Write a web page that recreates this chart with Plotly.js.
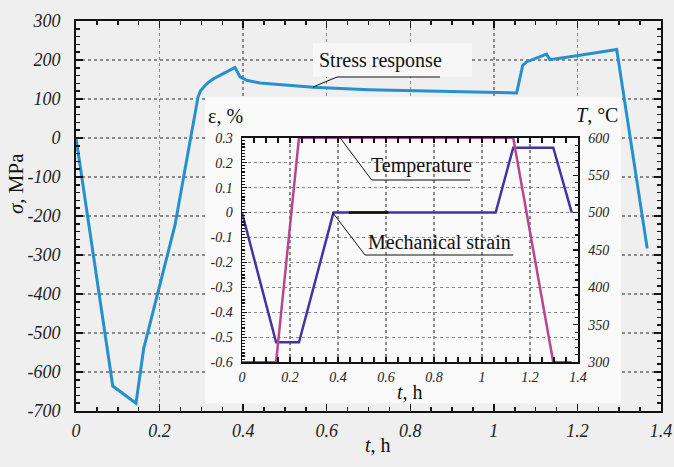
<!DOCTYPE html>
<html>
<head>
<meta charset="utf-8">
<script src="https://cdn.plot.ly/plotly-3.0.1.min.js"></script>
<style>html,body{margin:0;padding:0;background:#efefef;}#chart{width:674px;height:467px;}</style>
</head>
<body>
<div id="chart"></div>
<script>
// ---- data ----
const stressT = [0, 0.088, 0.1436, 0.162, 0.237, 0.292, 0.298, 0.31, 0.32, 0.329, 0.3525, 0.3805, 0.3925, 0.4085, 0.44, 0.5, 0.567, 0.7, 0.85, 1.0, 1.0545, 1.069, 1.078, 1.126, 1.134, 1.206, 1.294, 1.367];
const stressS = [0, -636, -680, -540, -223, 105, 121, 136, 145, 152, 165, 181, 157, 148, 141, 136, 130, 124, 120, 117, 115.5, 186, 195, 215, 201, 212, 227, -283];

const strainT = [0, 0.142, 0.2375, 0.381, 1.057, 1.13, 1.297, 1.374];
const strainE = [0, -0.52, -0.52, 0, 0, 0.26, 0.26, 0];
const holdT = [0.445, 0.61];
const holdE = [0, 0];

const tempT = [0, 0.142, 0.2375, 1.13, 1.297, 1.374];
const tempC = [300, 300, 600, 600, 300, 300];

const mainYTicks = [300, 200, 100, 0, -100, -200, -300, -400, -500, -600, -700];
const mainYLabels = ['300','200','100','0','-100','-200','-300','-400','-500','-600','-700'];
const insetYTicks = [0.3, 0.2, 0.1, 0, -0.1, -0.2, -0.3, -0.4, -0.5, -0.6];
const insetYLabels = ['0.3','0.2','0.1','0','-0.1','-0.2','-0.3','-0.4','-0.5','-0.6'];

// ---- helpers: pixel -> paper ----
const W = 674, H = 467;
const px = x => x / W;
const py = y => 1 - y / H;

const serif = '"Liberation Serif", "Times New Roman", Times, serif';

const traces = [
  {x: stressT, y: stressS, xaxis: 'x', yaxis: 'y', type: 'scatter', mode: 'lines',
   line: {color: '#2590cc', width: 3}, hoverinfo: 'skip'},
  {x: [], y: [], xaxis: 'x2', yaxis: 'y2', type: 'scatter', mode: 'lines', hoverinfo: 'skip'},
  {x: tempT, y: tempC, xaxis: 'x3', yaxis: 'y4', type: 'scatter', mode: 'lines',
   line: {color: '#b8468f', width: 2.5}, hoverinfo: 'skip'},
  {x: strainT, y: strainE, xaxis: 'x3', yaxis: 'y3', type: 'scatter', mode: 'lines',
   line: {color: '#4433a3', width: 2.5}, hoverinfo: 'skip'},
  {x: holdT, y: holdE, xaxis: 'x3', yaxis: 'y3', type: 'scatter', mode: 'lines',
   line: {color: '#111111', width: 2.5}, hoverinfo: 'skip'}
];

const axisCommon = {
  showline: true, linecolor: '#111', zeroline: false,
  ticks: 'inside', tickcolor: '#111', fixedrange: true
};

const layout = {
  width: W, height: H,
  paper_bgcolor: '#efefef', plot_bgcolor: 'rgba(0,0,0,0)',
  margin: {l: 0, r: 0, t: 0, b: 0},
  showlegend: false,
  font: {family: serif, color: '#111'},
  xaxis: Object.assign({}, axisCommon, {
    domain: [px(76), px(661)], anchor: 'y', range: [0, 1.4], tick0: 0, dtick: 0.2,
    linewidth: 2, mirror: 'allticks', ticklen: 7, tickwidth: 1.5,
    minor: {dtick: 0.05, ticks: 'inside', ticklen: 4, tickcolor: '#111', showgrid: false},
    showgrid: true, gridcolor: '#8a8a8a', griddash: 'dot', gridwidth: 1.5,
    tickfont: {family: serif, size: 18, style: 'italic', color: '#222'}, ticklabelstandoff: 2
  }),
  yaxis: Object.assign({}, axisCommon, {
    domain: [py(411), py(21)], anchor: 'x', range: [-700, 300],
    tickmode: 'array', tickvals: mainYTicks, ticktext: mainYLabels,
    linewidth: 2, mirror: 'allticks', ticklen: 7, tickwidth: 1.5,
    minor: {dtick: 20, ticks: 'inside', ticklen: 4, tickcolor: '#111', showgrid: false},
    showgrid: true, gridcolor: '#8a8a8a', griddash: 'dot', gridwidth: 1.5,
    tickfont: {family: serif, size: 18, style: 'italic', color: '#222'}, ticklabelstandoff: 10
  }),
  xaxis2: {domain: [px(205), px(621)], anchor: 'y2', range: [0, 1], visible: false, fixedrange: true},
  yaxis2: {domain: [py(403.5), py(97)], anchor: 'x2', range: [0, 1], visible: false, fixedrange: true},
  xaxis3: Object.assign({}, axisCommon, {
    domain: [px(242), px(578)], anchor: 'y3', range: [0, 1.4], tick0: 0, dtick: 0.2,
    linewidth: 1.5, mirror: 'allticks', ticklen: 5, tickwidth: 1.2,
    minor: {dtick: 0.05, ticks: 'inside', ticklen: 3, tickcolor: '#111', showgrid: false},
    showgrid: true, gridcolor: '#8a8a8a', griddash: 'dot', gridwidth: 1.2,
    tickfont: {family: serif, size: 14, style: 'italic', color: '#222'}, ticklabelstandoff: 1
  }),
  yaxis3: Object.assign({}, axisCommon, {
    domain: [py(362.3), py(137.7)], anchor: 'x3', range: [-0.6, 0.3],
    tickmode: 'array', tickvals: insetYTicks, ticktext: insetYLabels,
    linewidth: 1.5, ticklen: 5, tickwidth: 1.2,
    minor: {dtick: 0.0125, ticks: 'inside', ticklen: 3, tickcolor: '#111', showgrid: false},
    showgrid: true, gridcolor: '#8a8a8a', griddash: 'dot', gridwidth: 1.2,
    tickfont: {family: serif, size: 14, style: 'italic', color: '#222'}, ticklabelstandoff: 5
  }),
  yaxis4: Object.assign({}, axisCommon, {
    overlaying: 'y3', side: 'right', anchor: 'x3', range: [300, 600], tick0: 300, dtick: 50,
    linewidth: 1.5, ticklen: 5, tickwidth: 1.2,
    minor: {dtick: 10, ticks: 'inside', ticklen: 3, tickcolor: '#111', showgrid: false},
    showgrid: false,
    tickfont: {family: serif, size: 14, style: 'italic', color: '#222'}, ticklabelstandoff: 6
  }),
  shapes: [
    // inset background panel (drawn in the cover subplot, below the inset grid)
    {type: 'rect', xref: 'x2', yref: 'y2', x0: 0, x1: 1, y0: 0, y1: 1,
     fillcolor: '#fafafa', line: {width: 0}, layer: 'below'},
    // "Stress response" label box
    {type: 'rect', xref: 'paper', yref: 'paper', x0: px(313), x1: px(472), y0: py(77), y1: py(43),
     fillcolor: '#f7f7f7', line: {width: 0}, layer: 'above'},
    // leader lines
    {type: 'path', xref: 'paper', yref: 'paper', layer: 'above',
     path: `M ${px(313)},${py(87)} L ${px(337)},${py(77)} L ${px(440)},${py(77)}`, line: {color: '#111', width: 1}},
    {type: 'path', xref: 'paper', yref: 'paper', layer: 'above',
     path: `M ${px(340)},${py(137.7)} L ${px(371.7)},${py(180)} L ${px(470)},${py(180)}`, line: {color: '#111', width: 1}},
    {type: 'path', xref: 'paper', yref: 'paper', layer: 'above',
     path: `M ${px(333)},${py(213)} L ${px(365)},${py(255)} L ${px(513.3)},${py(255)}`, line: {color: '#111', width: 1}}
  ],
  annotations: [
    {text: 'Stress response', x: px(380), y: py(61), xref: 'paper', yref: 'paper',
     showarrow: false, xanchor: 'center', yanchor: 'middle', font: {family: serif, size: 20, color: '#111'}},
    {text: 'Temperature', x: px(421), y: py(165), xref: 'paper', yref: 'paper',
     showarrow: false, xanchor: 'center', yanchor: 'middle', font: {family: serif, size: 20, color: '#111'}},
    {text: 'Mechanical strain', x: px(439), y: py(242), xref: 'paper', yref: 'paper',
     showarrow: false, xanchor: 'center', yanchor: 'middle', font: {family: serif, size: 20, color: '#111'}},
    {text: 'ε, %', x: px(226), y: py(116), xref: 'paper', yref: 'paper',
     showarrow: false, xanchor: 'center', yanchor: 'middle', font: {family: serif, size: 20, color: '#111'}},
    {text: '<i>T</i>, °C', x: px(597), y: py(115), xref: 'paper', yref: 'paper',
     showarrow: false, xanchor: 'center', yanchor: 'middle', font: {family: serif, size: 20, color: '#111'}},
    {text: '<i>t</i>, h', x: px(410), y: py(392), xref: 'paper', yref: 'paper',
     showarrow: false, xanchor: 'center', yanchor: 'middle', font: {family: serif, size: 20, color: '#111'}},
    {text: '<i>t</i>, h', x: px(378), y: py(445), xref: 'paper', yref: 'paper',
     showarrow: false, xanchor: 'center', yanchor: 'middle', font: {family: serif, size: 20, color: '#111'}},
    {text: '<i>σ</i>, MPa', x: px(16), y: py(184), xref: 'paper', yref: 'paper', textangle: -90,
     showarrow: false, xanchor: 'center', yanchor: 'middle', font: {family: serif, size: 21, color: '#111'}}
  ]
};

Plotly.newPlot('chart', traces, layout, {displayModeBar: false, staticPlot: true});
</script>
</body>
</html>
